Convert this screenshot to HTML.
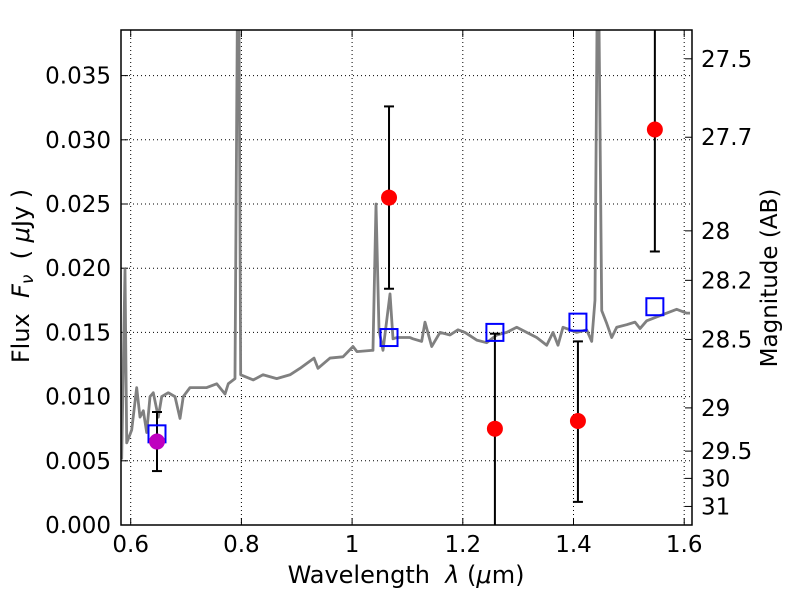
<!DOCTYPE html>
<html><head><meta charset="utf-8"><style>
html,body{margin:0;background:#fff;width:800px;height:600px;overflow:hidden}
svg{display:block;font-family:"DejaVu Sans","Liberation Sans",sans-serif}
</style></head><body>
<svg id="chart" width="800" height="600" viewBox="0 0 800 600" overflow="hidden">
<text x="406" y="583" font-size="24" text-anchor="middle">Wavelength&#160; <tspan font-style="italic">λ</tspan> (<tspan font-style="italic">μ</tspan>m)</text>
<text transform="translate(29,276) rotate(-90)" font-size="24" text-anchor="middle">Flux&#160; <tspan font-style="italic">F</tspan><tspan font-style="italic" font-size="17" dy="4">ν</tspan><tspan dy="-4">&#160; ( </tspan><tspan font-style="italic">μ</tspan>Jy )</text>
<text transform="translate(777,278) rotate(-90)" font-size="23" text-anchor="middle">Magnitude (AB)</text>
</svg>
<script>
const specW=[.5837,.5897,.5928,.6018,.6108,.6168,.6228,.6289,.6349,.6408,.6499,.656,.6679,.68,.6891,.695,.7071,.7192,.7373,.7554,.7704,.7763,.7884,.7926,.7957,.7987,.8215,.839,.8638,.8878,.9059,.9312,.9384,.9601,.9836,1.0016,1.0088,1.0354,1.0377,1.0432,1.0486,1.0558,1.0685,1.0739,1.0806,1.1046,1.11,1.1257,1.1317,1.1438,1.1588,1.1769,1.1913,1.204,1.2251,1.2432,1.2613,1.2793,1.2974,1.3154,1.3335,1.3516,1.363,1.372,1.381,1.3937,1.4058,1.4238,1.4329,1.4388,1.4425,1.4461,1.451,1.46,1.469,1.4781,1.4961,1.5111,1.5202,1.5322,1.5562,1.5864,1.6045,1.6105];
const specF=[.0051,.0199,.0064,.0074,.0107,.0084,.0089,.0072,.0100,.0103,.0084,.0100,.0103,.0100,.0083,.0100,.0107,.0107,.0107,.0110,.0102,.0110,.0114,.0390,.0390,.0117,.0113,.0117,.0114,.0117,.0122,.0130,.0122,.0130,.0131,.0139,.0135,.0136,.0136,.0250,.0152,.0136,.0180,.0145,.0146,.0146,.0145,.0143,.0158,.0139,.0150,.0148,.0152,.0150,.0144,.0142,.0148,.0150,.0154,.0150,.0146,.0140,.0150,.0140,.0154,.0152,.0150,.0152,.0143,.0175,.0390,.0390,.0167,.0157,.0146,.0154,.0156,.0158,.0153,.0159,.0163,.0168,.0165,.0165];
const obsW=[1.0667,1.258,1.408,1.547];
const obsF=[.0255,.0075,.0081,.0308];
const obsLo=[.0184,-.0005,.0018,.0213];
const obsHi=[.0326,.0149,.0143,.0392];
const refW=[.6475];const refF=[.0065];const refLo=[.0042];const refHi=[.0088];
const modW=[.6475,1.0667,1.258,1.408,1.547];
const modF=[.0071,.0146,.0150,.0158,.0170];
const xTicks=[0.6,0.8,1,1.2,1.4,1.6];const xLabels=["0.6","0.8","1","1.2","1.4","1.6"];
const yTicks=[0,.005,.01,.015,.02,.025,.03,.035];const yLabels=["0.000","0.005","0.010","0.015","0.020","0.025","0.030","0.035"];
const magTicks=[27.5,27.7,28,28.2,28.5,29,29.5,30,31];const magLabels=["27.5","27.7","28","28.2","28.5","29","29.5","30","31"];

const L=121,R=692,T=30,B=525;
const X=w=>130.7+(w-0.6)*553.5;
const Y=f=>525-f*12840;
const NS="http://www.w3.org/2000/svg";
const svg=document.getElementById('chart');
function mk(t,a,p){const e=document.createElementNS(NS,t);for(const k in a)e.setAttribute(k,a[k]);(p||svg).appendChild(e);return e;}
const defs=mk('defs',{});const cp=mk('clipPath',{id:'c'},defs);mk('rect',{x:L,y:T,width:R-L,height:B-T},cp);
const grid=mk('g',{});


xTicks.forEach((v,i)=>{const x=X(v);
 mk('line',{x1:x,x2:x,y1:T,y2:B,stroke:'#000','stroke-width':1,'stroke-dasharray':'1,3'},grid);
 mk('line',{x1:x,x2:x,y1:B,y2:B-7,stroke:'#000'});mk('line',{x1:x,x2:x,y1:T,y2:T+7,stroke:'#000'});
 const t=mk('text',{x:x,y:B+27,'font-size':23,'text-anchor':'middle'});t.textContent=xLabels[i];
 
 
});
yTicks.forEach((v,i)=>{const y=Y(v);
 if(i>0)mk('line',{x1:L,x2:R,y1:y,y2:y,stroke:'#000','stroke-width':1,'stroke-dasharray':'1,3'},grid);
 mk('line',{x1:L,x2:L+7,y1:y,y2:y,stroke:'#000'});
 const t=mk('text',{x:L-10,y:y+8,'font-size':23,'text-anchor':'end'});t.textContent=yLabels[i];
 
 
});
magTicks.forEach((m,i)=>{const y=Y(Math.pow(10,(23.9-m)/2.5));
 mk('line',{x1:R,x2:R-7,y1:y,y2:y,stroke:'#000'});
 const t=mk('text',{x:R+9,y:y+8,'font-size':23});t.textContent=magLabels[i];
 
 
});
const g=mk('g',{'clip-path':'url(#c)'});
const sp=mk('polyline',{points:specW.map((w,i)=>X(w)+','+Y(specF[i])).join(' '),fill:'none',stroke:'#808080','stroke-width':2.8,'stroke-linejoin':'round'},g);


function eb(w,lo,hi){const x=X(w);mk('line',{x1:x,x2:x,y1:Y(lo),y2:Y(hi),stroke:'#000','stroke-width':2},g);
 [lo,hi].forEach(v=>mk('line',{x1:x-5,x2:x+5,y1:Y(v),y2:Y(v),stroke:'#000','stroke-width':2},g));}
obsW.forEach((w,i)=>eb(w,obsLo[i],obsHi[i]));
refW.forEach((w,i)=>eb(w,refLo[i],refHi[i]));
modW.forEach((w,i)=>{const r=mk('rect',{x:X(w)-8.5,y:Y(modF[i])-8.5,width:17,height:17,fill:'none',stroke:'#0000ff','stroke-width':2},g);
 
 });
refW.forEach((w,i)=>{const c=mk('circle',{cx:X(w),cy:Y(refF[i]),r:8,fill:'#bf00bf'},g);
 
 });
obsW.forEach((w,i)=>{const c=mk('circle',{cx:X(w),cy:Y(obsF[i]),r:8,fill:'#ff0000'},g);
 
 });
const fr=mk('rect',{x:L,y:T,width:R-L,height:B-T,fill:'none',stroke:'#000','stroke-width':1.5});


</script>
</body></html>
